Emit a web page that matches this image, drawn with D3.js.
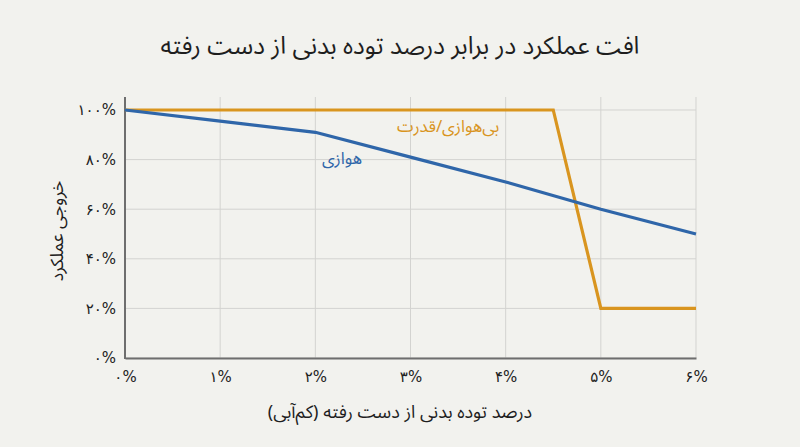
<!DOCTYPE html>
<html lang="fa">
<head>
<meta charset="utf-8">
<script src="https://cdn.jsdelivr.net/npm/d3@7"></script>
<style>
  html, body { margin: 0; padding: 0; background: #f2f2ee; }
  svg { display: block; font-family: "Noto Sans Arabic", "Vazirmatn", "DejaVu Sans", sans-serif; }
</style>
</head>
<body>
<svg id="chart" width="800" height="447"></svg>
<script>
// data
var lossPct = [0, 1, 2, 3, 4, 5, 6];
var aerobic = [100, 95.5, 91, 81, 71, 60, 50];
var anaerobicX = [0, 4.5, 5, 6];
var anaerobicY = [100, 100, 20, 20];
var xTicks = [0, 1, 2, 3, 4, 5, 6];
var yTicks = [0, 20, 40, 60, 80, 100];

var fa = function(n) {
  return String(n).replace(/\d/g, function(c) { return "۰۱۲۳۴۵۶۷۸۹"[+c] }) + "%"
}

var svg = d3.select("#chart")
var margin = {left: 125, right: 104, top: 110, bottom: 89}
var W = 800, H = 447

var x = d3.scaleLinear().domain([0, 6]).range([margin.left, W - margin.right])
var y = d3.scaleLinear().domain([0, 100]).range([H - margin.bottom, margin.top])
var gridTop = 97

// grid
svg.append("g").selectAll("line")
  .data(yTicks)
  .enter()
  .append("line")
  .attr("x1", x(0)).attr("x2", x(6))
  .attr("y1", function(d){ return y(d) })
  .attr("y2", function(d){ return y(d) })
  .attr("stroke", "#d3d3d0").attr("stroke-width", 1)

svg.append("g").selectAll("line")
  .data(xTicks)
  .enter()
  .append("line")
  .attr("x1", function(d){ return x(d) })
  .attr("x2", function(d){ return x(d) })
  .attr("y1", gridTop).attr("y2", y(0))
  .attr("stroke", "#d3d3d0").attr("stroke-width", 1)

// axes
var xAxis = svg.append("g")
  .attr("transform", "translate(0," + y(0) + ")")
  .call(d3.axisBottom(x).tickValues(xTicks).tickFormat(fa).tickSize(0).tickPadding(13))
xAxis.select(".domain").attr("stroke", "#6e6e6e").attr("stroke-width", 2)

var yAxis = svg.append("g")
  .attr("transform", "translate(" + x(0) + ",0)")
  .call(d3.axisLeft(y).tickValues(yTicks).tickFormat(fa).tickSize(0).tickPadding(9))
yAxis.select(".domain").remove()
svg.append("line")
  .attr("x1", x(0)).attr("x2", x(0))
  .attr("y1", gridTop).attr("y2", y(0) + 1)
  .attr("stroke", "#6e6e6e").attr("stroke-width", 2)

svg.selectAll(".tick text")
  .attr("font-size", 15)
  .attr("fill", "#222")
  .attr("font-family", "DejaVu Sans, sans-serif")

// lines
var line = d3.line()
  .x(function(d){ return x(d[0]) })
  .y(function(d){ return y(d[1]) })

svg.append("path")
  .datum(d3.zip(anaerobicX, anaerobicY))
  .attr("d", line)
  .attr("fill", "none")
  .attr("stroke", "#d9951f")
  .attr("stroke-width", 3.2)

svg.append("path")
  .datum(d3.zip(lossPct, aerobic))
  .attr("d", line)
  .attr("fill", "none")
  .attr("stroke", "#2f66a9")
  .attr("stroke-width", 3.2)

// line labels
svg.append("text")
  .attr("x", 448).attr("y", 128)
  .attr("text-anchor", "middle").attr("dominant-baseline", "middle")
  .attr("direction", "rtl")
  .attr("font-size", 16.7).attr("fill", "#d9951f")
  .text("بی‌هوازی/قدرت")

svg.append("text")
  .attr("x", 342).attr("y", 160)
  .attr("text-anchor", "middle").attr("dominant-baseline", "middle")
  .attr("direction", "rtl")
  .attr("font-size", 16.7).attr("fill", "#2f66a9")
  .text("هوازی")

// titles
svg.append("text")
  .attr("x", 400).attr("y", 47)
  .attr("text-anchor", "middle").attr("dominant-baseline", "middle")
  .attr("direction", "rtl")
  .attr("font-size", 24.5).attr("fill", "#1e1e1e")
  .text("افت عملکرد در برابر درصد توده بدنی از دست رفته")

svg.append("text")
  .attr("x", 400).attr("y", 413)
  .attr("text-anchor", "middle").attr("dominant-baseline", "middle")
  .attr("direction", "rtl")
  .attr("font-size", 18).attr("fill", "#1e1e1e")
  .text("درصد توده بدنی از دست رفته (کم‌آبی)")

svg.append("text")
  .attr("transform", "translate(58,231) rotate(-90)")
  .attr("text-anchor", "middle").attr("dominant-baseline", "middle")
  .attr("direction", "rtl")
  .attr("font-size", 17.5).attr("fill", "#1e1e1e")
  .text("خروجی عملکرد")
</script>
</body>
</html>
